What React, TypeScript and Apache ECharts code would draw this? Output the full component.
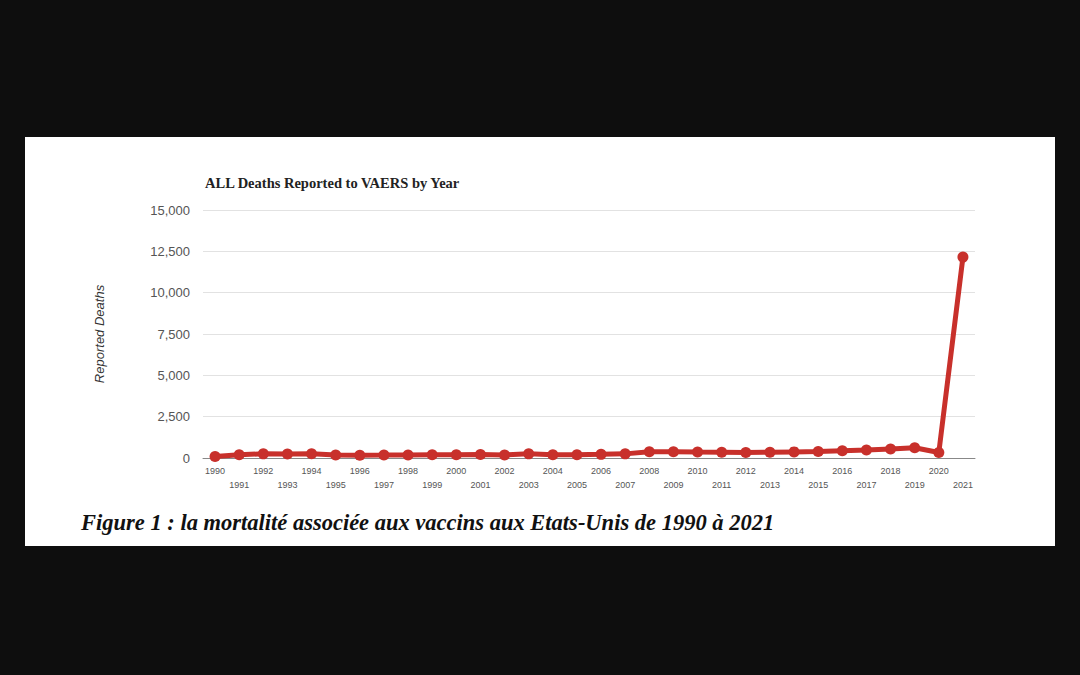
import React, { useEffect, useRef } from "react";
import * as echarts from "echarts";

const years: string[] = [
  "1990", "1991", "1992", "1993", "1994", "1995", "1996", "1997", "1998", "1999",
  "2000", "2001", "2002", "2003", "2004", "2005", "2006", "2007", "2008", "2009",
  "2010", "2011", "2012", "2013", "2014", "2015", "2016", "2017", "2018", "2019",
  "2020", "2021",
];
const deaths: number[] = [
  90, 200, 250, 240, 260, 180, 170, 175, 185, 195,
  200, 210, 180, 250, 190, 200, 220, 250, 380, 380,
  360, 350, 330, 350, 370, 390, 440, 480, 550, 620,
  330, 12150,
];
const titleText = "ALL Deaths Reported to VAERS by Year";
const yAxisName = "Reported Deaths";
const captionText = "Figure 1 : la mortalité associée aux vaccins aux Etats-Unis de 1990 à 2021";

export default function App() {
  const ref = useRef<HTMLDivElement>(null);
  useEffect(() => {
    if (!ref.current) return;
    const chart = echarts.init(ref.current, undefined, { renderer: "svg" });
    chart.setOption({
      animation: false,
      backgroundColor: "#0e0e0e",
      title: {
        text: titleText,
        left: 200,
        top: 170,
        textStyle: {
          fontFamily: "Liberation Serif",
          fontWeight: "bold",
          fontSize: 14.5,
          color: "#222",
        },
      },
      graphic: [
        {
          type: "rect",
          z: -10,
          shape: { x: 25, y: 137, width: 1030, height: 409 },
          style: { fill: "#ffffff" },
        },
        {
          type: "text",
          left: 81,
          top: 511,
          style: {
            text: captionText,
            fontFamily: "Liberation Serif",
            fontStyle: "italic",
            fontWeight: "bold",
            fontSize: 22.5,
            fill: "#111",
          },
        },
      ],
      grid: { left: 203, right: 105, top: 210, bottom: 217, containLabel: false },
      xAxis: {
        type: "category",
        data: years,
        boundaryGap: true,
        axisLine: { show: true, lineStyle: { color: "#888", width: 1 } },
        axisTick: { show: false },
        axisLabel: {
          interval: 0,
          fontFamily: "Liberation Sans",
          fontSize: 9,
          color: "#555",
          margin: 6,
          lineHeight: 14,
          formatter: (v: string, i: number) => (i % 2 === 1 ? "\n" + v : v),
        },
      },
      yAxis: {
        type: "value",
        min: 0,
        max: 15000,
        interval: 2500,
        name: yAxisName,
        nameLocation: "middle",
        nameRotate: 90,
        nameGap: 97,
        nameTextStyle: {
          fontFamily: "Liberation Sans",
          fontStyle: "italic",
          fontSize: 13,
          color: "#333",
        },
        axisLine: { show: false },
        axisTick: { show: false },
        axisLabel: {
          fontFamily: "Liberation Sans",
          fontSize: 13,
          color: "#555",
          margin: 13,
        },
        splitLine: { lineStyle: { color: "#e2e2e2", width: 1 } },
      },
      series: [
        {
          type: "line",
          data: deaths,
          symbol: "circle",
          symbolSize: 11,
          lineStyle: { color: "#c8302b", width: 5 },
          itemStyle: { color: "#c8302b" },
        },
      ],
    });
    return () => chart.dispose();
  }, []);
  return (
    <div
      ref={ref}
      style={{ position: "absolute", left: 0, top: 0, width: 1080, height: 675 }}
    />
  );
}
